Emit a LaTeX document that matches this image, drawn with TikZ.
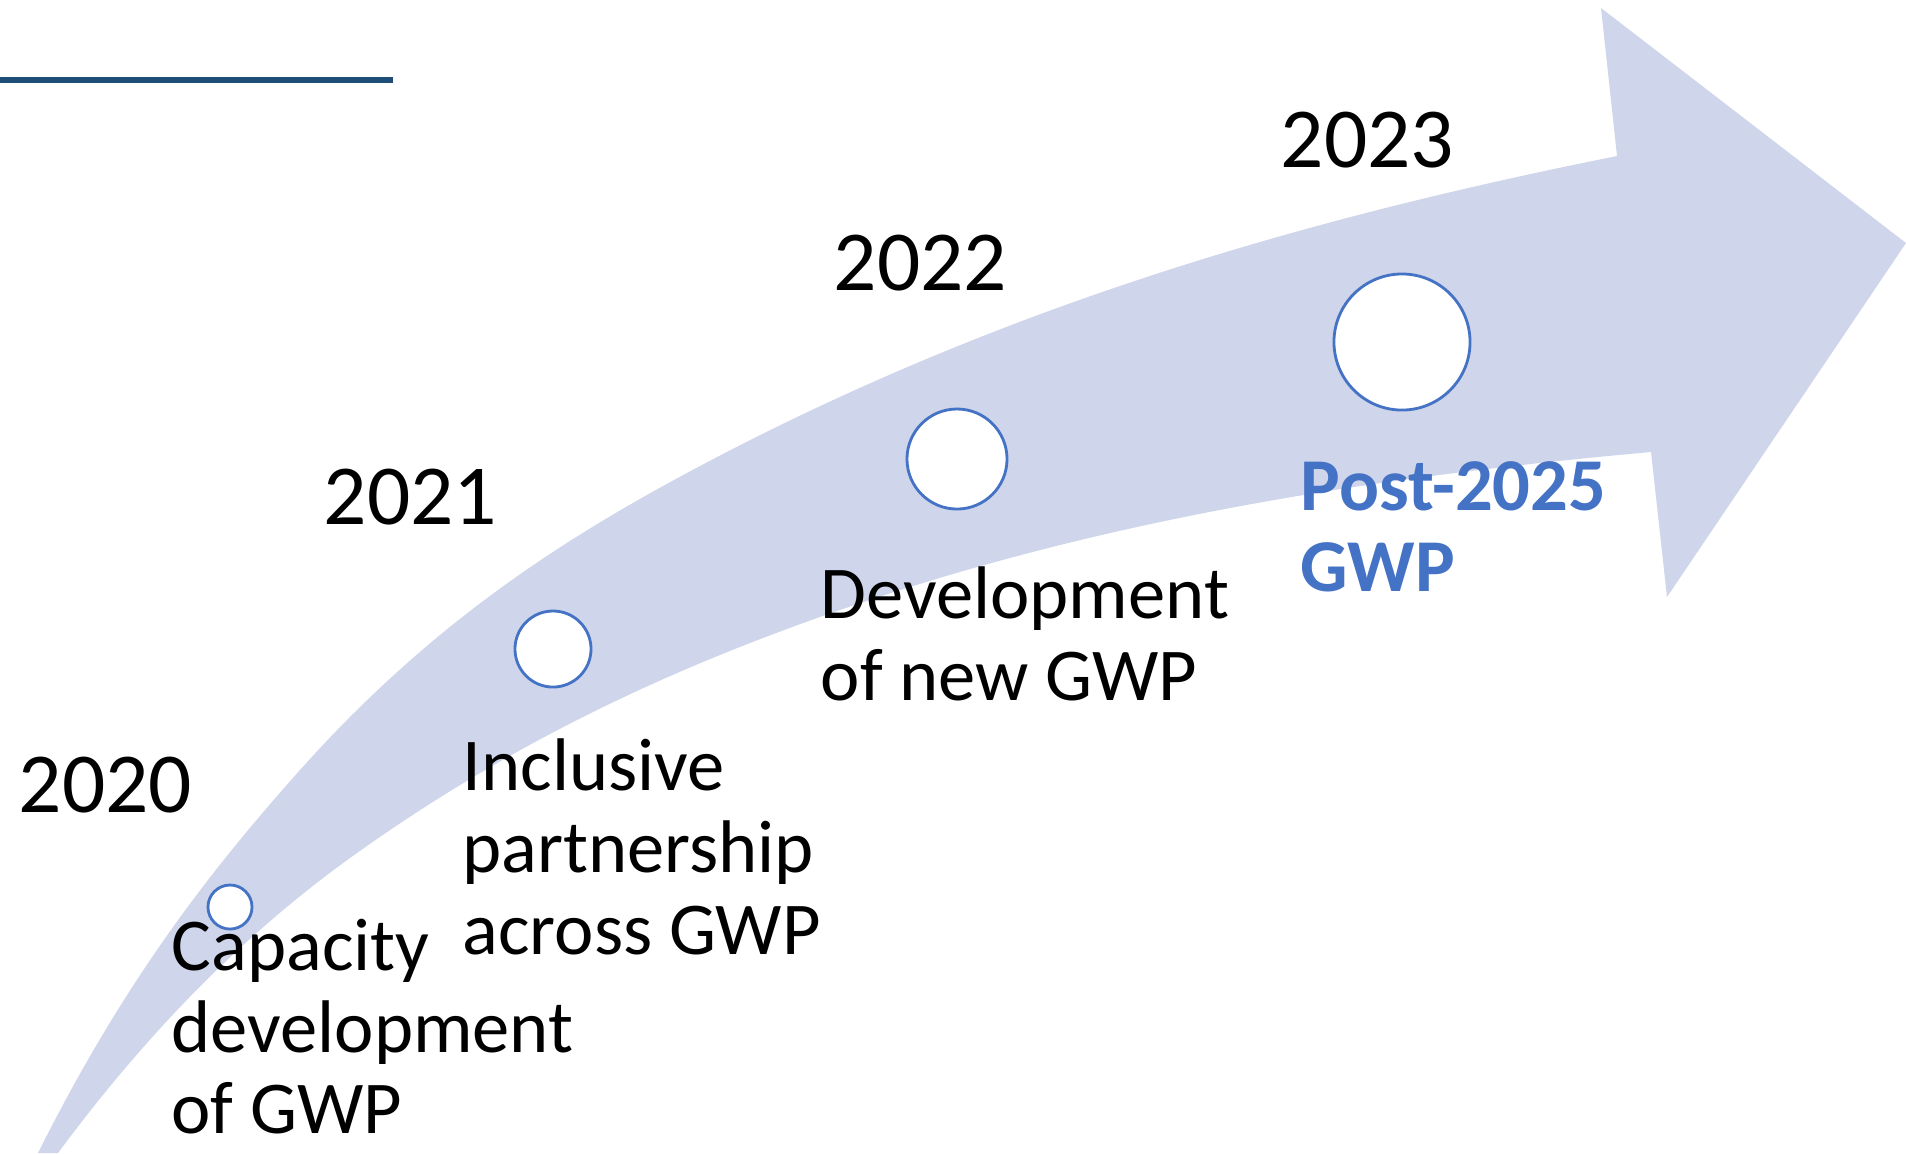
\documentclass[tikz,border=0pt]{standalone}
\usepackage{fontspec}
\setmainfont{Carlito}
\definecolor{arrowfill}{RGB}{207,213,234}
\definecolor{dotblue}{RGB}{68,114,196}
\definecolor{postblue}{RGB}{68,114,196}
\definecolor{lineblue}{RGB}{31,78,121}
\begin{document}
\begin{tikzpicture}[x=0.01cm,y=-0.01cm,
  yeartxt/.style={anchor=base west, inner sep=0pt, font=\fontsize{24.3pt}{29pt}\selectfont},
  bodytxt/.style={anchor=base west, inner sep=0pt, font=\fontsize{21.2pt}{25pt}\selectfont},
  posttxt/.style={anchor=base west, inner sep=0pt, font=\fontsize{21.2pt}{25pt}\selectfont\bfseries, text=postblue},
  dot/.style={circle, draw=dotblue, line width=0.8pt, fill=white, inner sep=0pt, minimum size=#1},
  topline/.style={draw=lineblue, line width=1.7pt},
]
\useasboundingbox (0,0) rectangle (1906,1153);
\clip (0,0) rectangle (1906,1153);

% curved arrow
\fill[arrowfill]
  (38,1153) .. controls (125.3,978.4) and (212.7,867.8) .. (300,770)
            .. controls (433.3,620.7) and (566.7,536.7) .. (700,466)
            .. controls (1005.7,304) and (1311.3,217.1) .. (1617,156)
  -- (1601,8) -- (1906,243) -- (1667,597) -- (1651,452)
  .. controls (1350.7,479) and (1050.3,525.9) .. (750,643)
  .. controls (616.7,695) and (483.3,762) .. (350,858)
  .. controls (252.7,928.1) and (155.3,1021.6) .. (58,1153)
  -- cycle;

% top rule
\coordinate (ruleA) at (0,80);
\coordinate (ruleB) at (393,80);
\draw[topline] (ruleA) -- (ruleB);

% milestones
\node[dot=0.44cm] (c2020) at (230,907) {};
\node[dot=0.76cm] (c2021) at (553,649) {};
\node[dot=1.00cm] (c2022) at (957,459) {};
\node[dot=1.36cm] (c2023) at (1402,342) {};

% years
\node[yeartxt] (y2020) at (18,812) {2020};
\node[yeartxt] (y2021) at (323,524) {2021};
\node[yeartxt] (y2022) at (833,290) {2022};
\node[yeartxt] (y2023) at (1280,167) {2023};

% descriptions
\node[bodytxt] (d20a) at (171,970) {Capacity};
\node[bodytxt] (d20b) at (171,1052) {development};
\node[bodytxt] (d20c) at (171,1133) {of GWP};

\node[bodytxt] (d21a) at (462,790) {Inclusive};
\node[bodytxt] (d21b) at (462,872) {partnership};
\node[bodytxt] (d21c) at (462,954) {across GWP};

\node[bodytxt] (d22a) at (820,618) {Development};
\node[bodytxt] (d22b) at (820,700) {of new GWP};

\node[posttxt] (d23a) at (1300,510) {Post-2025};
\node[posttxt] (d23b) at (1300,591) {GWP};
\end{tikzpicture}
\end{document}
